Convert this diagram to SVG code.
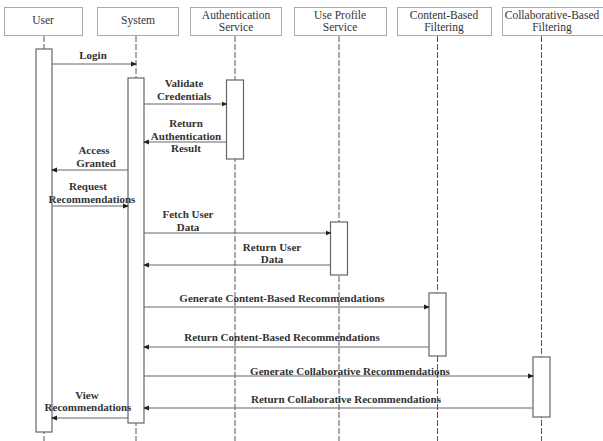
<svg xmlns="http://www.w3.org/2000/svg" width="603" height="441" viewBox="0 0 603 441">
<style>
.hd{fill:#fff;stroke:#aaa;stroke-width:1}
.ht{font-family:"Liberation Serif",serif;font-size:11.5px;fill:#333;text-anchor:middle}
.ll{stroke:#555;stroke-width:1;stroke-dasharray:6,2}
.act{fill:#fff;stroke:#666;stroke-width:1.2}
.msg{stroke:#666;stroke-width:1;fill:none}
.mt{font-family:"Liberation Serif",serif;font-weight:bold;font-size:11px;fill:#333;text-anchor:middle}
</style>
<defs>
<marker id="ah" markerWidth="6" markerHeight="6" refX="5" refY="3" orient="auto" markerUnits="userSpaceOnUse">
<path d="M0,0.5 L6,3 L0,5.5 Z" fill="#222"/>
</marker>
</defs>
<rect width="603" height="441" fill="#fff"/>
<g id="user">
<rect class="hd" x="4.5" y="7.5" width="78" height="28"/>
<text class="ht" x="43" y="24">User</text>
<line class="ll" x1="44" y1="36" x2="44" y2="441"/>
<rect class="act" x="36" y="49" width="16" height="383"/>
</g>
<g id="system">
<rect class="hd" x="97.5" y="7.5" width="81" height="28"/>
<text class="ht" x="138" y="24">System</text>
<line class="ll" x1="136" y1="36" x2="136" y2="441"/>
<rect class="act" x="128" y="78" width="16" height="345"/>
</g>
<g id="auth">
<rect class="hd" x="190.5" y="7.5" width="91" height="28"/>
<text class="ht" x="236" y="19">Authentication</text>
<text class="ht" x="236" y="31">Service</text>
<line class="ll" x1="235" y1="36" x2="235" y2="441"/>
<rect class="act" x="226.5" y="80" width="17" height="79"/>
</g>
<g id="profile">
<rect class="hd" x="294.5" y="7.5" width="92" height="28"/>
<text class="ht" x="340" y="19">Use Profile</text>
<text class="ht" x="340" y="31">Service</text>
<line class="ll" x1="339" y1="36" x2="339" y2="441"/>
<rect class="act" x="330.5" y="222" width="17" height="53"/>
</g>
<g id="content">
<rect class="hd" x="397.5" y="7.5" width="94" height="28"/>
<text class="ht" x="444" y="19">Content-Based</text>
<text class="ht" x="444" y="31">Filtering</text>
<line class="ll" x1="437.5" y1="36" x2="437.5" y2="441"/>
<rect class="act" x="429" y="293" width="17" height="63"/>
</g>
<g id="collab">
<rect class="hd" x="502.5" y="7.5" width="104" height="28"/>
<text class="ht" x="552" y="19">Collaborative-Based</text>
<text class="ht" x="552" y="31">Filtering</text>
<line class="ll" x1="541.5" y1="36" x2="541.5" y2="441"/>
<rect class="act" x="533" y="357" width="17" height="60"/>
</g>
<g id="connectors">
<line class="msg" x1="52" y1="64" x2="136" y2="64" marker-end="url(#ah)"/>
<line class="msg" x1="144" y1="104" x2="226.5" y2="104" marker-end="url(#ah)"/>
<line class="msg" x1="226.5" y1="142" x2="144" y2="142" marker-end="url(#ah)"/>
<line class="msg" x1="128" y1="170" x2="52" y2="170" marker-end="url(#ah)"/>
<line class="msg" x1="52" y1="206" x2="128" y2="206" marker-end="url(#ah)"/>
<line class="msg" x1="144" y1="233" x2="330.5" y2="233" marker-end="url(#ah)"/>
<line class="msg" x1="330.5" y1="265" x2="144" y2="265" marker-end="url(#ah)"/>
<line class="msg" x1="144" y1="307" x2="429" y2="307" marker-end="url(#ah)"/>
<line class="msg" x1="429" y1="347" x2="144" y2="347" marker-end="url(#ah)"/>
<line class="msg" x1="144" y1="376" x2="533" y2="376" marker-end="url(#ah)"/>
<line class="msg" x1="533" y1="408" x2="144" y2="408" marker-end="url(#ah)"/>
<line class="msg" x1="128" y1="418" x2="52" y2="418" marker-end="url(#ah)"/>
</g>
<g id="labels">
<text class="mt" x="93" y="59">Login</text>
<text class="mt" x="184" y="87">Validate</text>
<text class="mt" x="184" y="100">Credentials</text>
<text class="mt" x="186" y="127">Return</text>
<text class="mt" x="186" y="140">Authentication</text>
<text class="mt" x="186" y="152">Result</text>
<text class="mt" x="94" y="154">Access</text>
<text class="mt" x="96" y="167">Granted</text>
<text class="mt" x="88" y="190">Request</text>
<text class="mt" x="92" y="203">Recommendations</text>
<text class="mt" x="188" y="218">Fetch User</text>
<text class="mt" x="188" y="231">Data</text>
<text class="mt" x="272" y="251">Return User</text>
<text class="mt" x="272" y="263">Data</text>
<text class="mt" x="282" y="302">Generate Content-Based Recommendations</text>
<text class="mt" x="282" y="341">Return Content-Based Recommendations</text>
<text class="mt" x="350" y="375">Generate Collaborative Recommendations</text>
<text class="mt" x="346" y="403">Return Collaborative Recommendations</text>
<text class="mt" x="87" y="399">View</text>
<text class="mt" x="88" y="411">Recommendations</text>
</g>
</svg>
